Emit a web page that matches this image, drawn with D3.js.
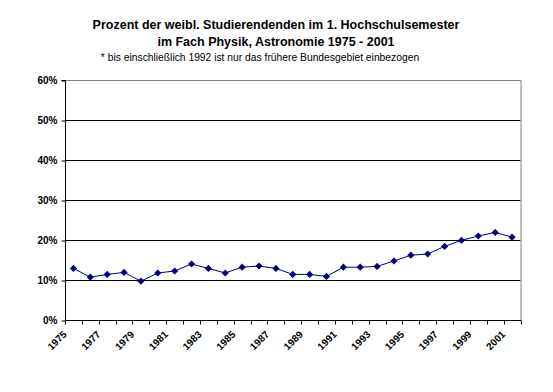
<!DOCTYPE html>
<html><head><meta charset="utf-8">
<script src="https://cdn.jsdelivr.net/npm/d3@7"></script>
<style>body{margin:0;background:#fff}svg{display:block}</style>
</head><body>
<svg id="c" width="553" height="392"></svg>
<script>
const years = d3.range(1975, 2002).map(String);
const values = [12.9,10.7,11.4,11.9,9.7,11.75,12.25,14.0,12.9,11.75,13.2,13.5,12.9,11.4,11.4,10.9,13.2,13.2,13.4,14.75,16.2,16.5,18.4,19.9,21.0,21.9,20.7];
const yTicks = [0,10,20,30,40,50,60];
const titleLines = ["Prozent der weibl. Studierendenden im 1. Hochschulsemester","im Fach Physik, Astronomie 1975 - 2001"];
const subtitle = "* bis einschließlich 1992 ist nur das frühere Bundesgebiet einbezogen";

const svg = d3.select("#c");
const L=65,R=520.5,T=80,B=320;
const x = d3.scaleBand().domain(years).range([L,R]);
const y = d3.scaleLinear().domain([0,60]).range([B,T]);
const font = "'Liberation Sans', Arial, sans-serif";

svg.append("g").selectAll("text").data(titleLines).join("text")
  .attr("x",276).attr("y",(d,i)=>29+i*17).attr("text-anchor","middle")
  .attr("font-family",font).attr("font-weight","bold").attr("font-size",12.5).text(d=>d);
svg.append("text").attr("x",260).attr("y",61).attr("text-anchor","middle")
  .attr("font-family",font).attr("font-size",10.3).text(subtitle);

// grid
svg.append("g").selectAll("line").data(yTicks.filter(d=>d>0&&d<60)).join("line")
  .attr("x1",L).attr("x2",R).attr("y1",d=>y(d)+0.5).attr("y2",d=>y(d)+0.5)
  .attr("stroke","#000").attr("stroke-width",1);
// border (gray top and right)
svg.append("path").attr("d",`M${L},${T+0.5}H${R+0.5}V${B}`).attr("fill","none").attr("stroke","#808080");

// y axis
const ya = svg.append("g").attr("transform",`translate(${L+0.5},0.5)`)
  .call(d3.axisLeft(y).tickValues(yTicks).tickFormat(d=>d+"%").tickSize(4).tickPadding(4));
ya.select(".domain").attr("d",`M-4,${T}H0V${B}`);
ya.selectAll("line").attr("stroke","#000");
ya.selectAll("text").attr("font-family",font).attr("font-weight","bold").attr("font-size",10).attr("fill","#000");

// x axis
const xa = svg.append("g").attr("transform",`translate(0,${B+0.5})`);
xa.append("line").attr("x1",L).attr("x2",R+0.5).attr("stroke","#000");
const bounds = years.map(d=>x(d)).concat([R]);
xa.selectAll("line.t").data(bounds).join("line").attr("class","t")
  .attr("x1",d=>Math.round(d)+0.5).attr("x2",d=>Math.round(d)+0.5).attr("y1",0).attr("y2",4).attr("stroke","#000");
xa.selectAll("text").data(years.filter((d,i)=>i%2===0)).join("text")
  .attr("transform",d=>`translate(${x(d)+x.bandwidth()/2-8.5},12) rotate(-45)`)
  .attr("text-anchor","end").attr("dy","0.35em")
  .attr("font-family",font).attr("font-weight","bold").attr("font-size",10).text(d=>d);

// line
const line = d3.line().x((d,i)=>x(years[i])+x.bandwidth()/2).y(d=>y(d));
svg.append("path").datum(values).attr("d",line).attr("fill","none").attr("stroke","#000080").attr("stroke-width",1);
svg.append("g").selectAll("path").data(values).join("path")
  .attr("d",d3.symbol(d3.symbolSquare, 26))
  .attr("transform",(d,i)=>`translate(${x(years[i])+x.bandwidth()/2},${y(d)}) rotate(45)`)
  .attr("fill","#000080");
</script>
</body></html>
